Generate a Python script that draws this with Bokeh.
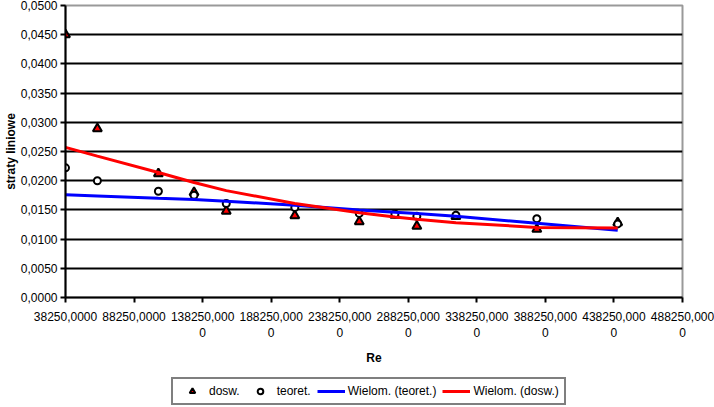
from bokeh.plotting import figure
from bokeh.layouts import column
from bokeh.models import FixedTicker, Legend, LegendItem, Range1d
from bokeh.embed import file_html
from bokeh.resources import INLINE

# ---- data ----
re_vals = [38250, 61500, 106000, 132000, 155500, 205500, 252500, 278500, 294500, 323000, 382000, 441000]
dosw = [0.0450, 0.0289, 0.0212, 0.0180, 0.0148, 0.0140, 0.0130, 0.0141, 0.0122, 0.0139, 0.0117, 0.0128]
teoret = [0.0222, 0.0200, 0.0182, 0.0175, 0.0161, 0.0154, 0.0144, 0.0143, 0.0139, 0.0141, 0.0135, 0.0126]
trend_teoret = [0.0176, 0.0174, 0.0170, 0.0168, 0.0165, 0.0158, 0.0150, 0.0146, 0.0144, 0.0139, 0.0127, 0.0115]
trend_dosw = [0.0257, 0.0242, 0.0214, 0.0197, 0.0183, 0.0161, 0.0145, 0.0138, 0.0134, 0.0128, 0.0120, 0.0119]

x_ticks = [38250, 88250, 138250, 188250, 238250, 288250, 338250, 388250, 438250, 488250]
x_tick_labels = ["38250,0000", "88250,0000", "138250,000\n0", "188250,000\n0", "238250,000\n0",
                 "288250,000\n0", "338250,000\n0", "388250,000\n0", "438250,000\n0", "488250,000\n0"]
y_ticks = [0.0, 0.005, 0.01, 0.015, 0.02, 0.025, 0.03, 0.035, 0.04, 0.045, 0.05]
y_tick_labels = ["0,0000", "0,0050", "0,0100", "0,0150", "0,0200", "0,0250",
                 "0,0300", "0,0350", "0,0400", "0,0450", "0,0500"]
y_grid_ticks = [0.005, 0.01, 0.015, 0.02, 0.025, 0.03, 0.035, 0.04, 0.045]

FONT = "Liberation Sans"

chart = figure(width=714, height=372, output_backend="svg", toolbar_location=None,
               x_range=Range1d(38250, 488250), y_range=Range1d(0, 0.05),
               min_border_left=64, min_border_right=32, min_border_top=5, min_border_bottom=75,
               background_fill_color="white", border_fill_color="white")

chart.outline_line_color = "#999999"
chart.outline_line_width = 2

# grid
chart.xgrid.visible = False
chart.ygrid.ticker = FixedTicker(ticks=y_grid_ticks)
chart.ygrid.grid_line_color = "black"
chart.ygrid.grid_line_width = 2

# axes
for ax in (chart.xaxis[0], chart.yaxis[0]):
    ax.axis_line_color = "black"
    ax.axis_line_width = 2
    ax.major_tick_line_color = "black"
    ax.major_tick_line_width = 2
    ax.major_tick_in = 0
    ax.major_tick_out = 5
    ax.minor_tick_line_color = None
    ax.major_label_text_font = FONT
    ax.major_label_text_font_size = "12px"
    ax.major_label_text_color = "black"
    ax.axis_label_text_font = FONT
    ax.axis_label_text_font_size = "12px"
    ax.axis_label_text_font_style = "bold"
    ax.axis_label_text_color = "black"

chart.xaxis.ticker = FixedTicker(ticks=x_ticks)
chart.xaxis.major_label_overrides = dict(zip(x_ticks, x_tick_labels))
chart.xaxis.axis_label = "Re"
chart.xaxis.major_label_standoff = 7
chart.xaxis.axis_label_standoff = 8

chart.yaxis.ticker = FixedTicker(ticks=y_ticks)
chart.yaxis.major_label_overrides = dict(zip(y_ticks, y_tick_labels))
chart.yaxis.axis_label = "straty liniowe"
chart.yaxis.major_label_standoff = 3
chart.yaxis.axis_label_standoff = 0

# marks
dosw_style = dict(marker="triangle", size=9, fill_color="red", line_color="black", line_width=2)
teoret_style = dict(marker="circle", size=7, fill_color="white", line_color="black", line_width=2)
chart.scatter(re_vals, dosw, **dosw_style)
chart.scatter(re_vals, teoret, **teoret_style)
chart.line(re_vals, trend_teoret, line_color="blue", line_width=3)
chart.line(re_vals, trend_dosw, line_color="red", line_width=3)

# ---- legend strip (separate small figure below the chart) ----
# the same series are attached here only so that the legend can draw their glyphs;
# the ranges keep them out of view
leg = figure(width=714, height=35, output_backend="svg", toolbar_location=None,
             x_axis_location=None, y_axis_location=None,
             x_range=Range1d(0, 1), y_range=Range1d(0, 1),
             min_border=0, min_border_left=0, min_border_right=0,
             min_border_top=0, min_border_bottom=0, outline_line_color=None,
             background_fill_color="white", border_fill_color="white")
leg.xgrid.visible = False
leg.ygrid.visible = False
l_dosw = leg.scatter(re_vals, dosw, **dosw_style)
l_teoret = leg.scatter(re_vals, teoret, **teoret_style)
l_tt = leg.line(re_vals, trend_teoret, line_color="blue", line_width=3)
l_td = leg.line(re_vals, trend_dosw, line_color="red", line_width=3)

legend = Legend(items=[LegendItem(label="dosw.", renderers=[l_dosw], index=0),
                       LegendItem(label="teoret.", renderers=[l_teoret], index=0),
                       LegendItem(label="Wielom. (teoret.)", renderers=[l_tt]),
                       LegendItem(label="Wielom. (dosw.)", renderers=[l_td])],
                location=(106, 2), orientation="horizontal",
                border_line_color="black", border_line_width=2,
                background_fill_color="white", background_fill_alpha=1.0,
                padding=5, spacing=6, glyph_width=28, glyph_height=14,
                label_standoff=3, label_width=0, label_text_font=FONT, label_text_font_size="12px",
                label_text_color="black", margin=0)
leg.add_layout(legend, "center")

p = column(chart, leg, spacing=0)

open("out.html", "w").write(file_html(p, INLINE))
